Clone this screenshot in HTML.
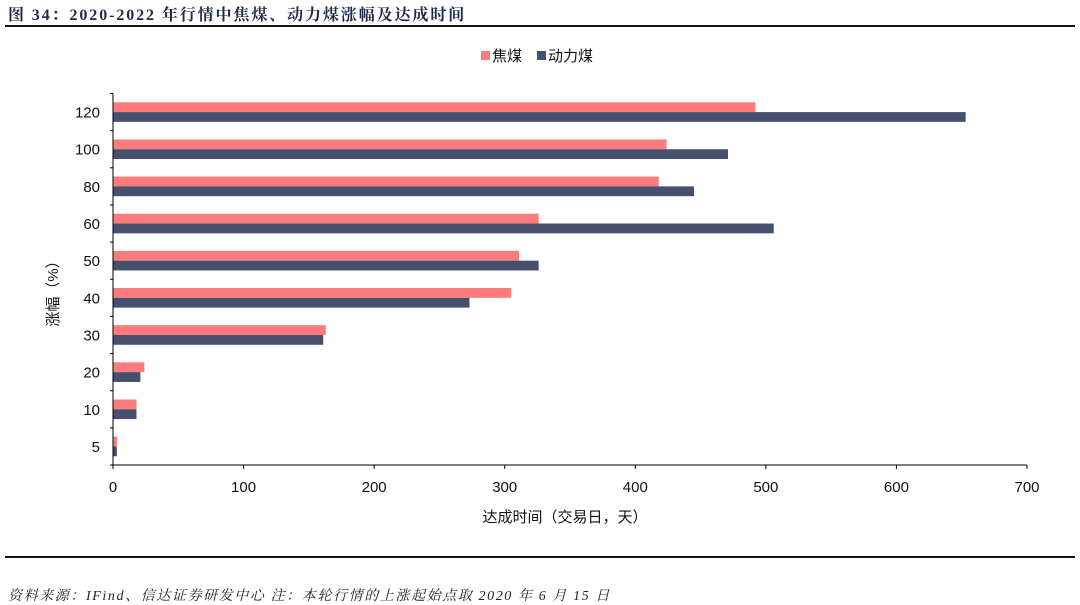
<!DOCTYPE html>
<html><head><meta charset="utf-8">
<style>
html,body{margin:0;padding:0;background:#fff;}
body{width:1080px;height:605px;position:relative;overflow:hidden;font-family:"Liberation Sans","Noto Sans CJK SC",sans-serif;}
.title{position:absolute;left:8px;top:2px;font-family:"Liberation Serif","Noto Serif CJK SC",serif;font-weight:bold;font-size:16px;color:#1f2a4a;letter-spacing:1.9px;}
.rule{position:absolute;left:5px;width:1070px;height:2px;background:#111;}
.foot{position:absolute;left:8px;top:585px;font-family:"Liberation Serif","Noto Serif CJK SC",serif;font-style:italic;font-size:14px;color:#222;letter-spacing:1.6px;}
</style></head><body>
<div class="title">图 34：2020-2022 年行情中焦煤、动力煤涨幅及达成时间</div>
<div class="rule" style="top:25px"></div>
<div class="rule" style="top:556px"></div>
<div class="foot">资料来源：IFind、信达证券研发中心 注：本轮行情的上涨起始点取 2020 年 6 月 15 日</div>
<svg id="chart" width="1080" height="605" style="position:absolute;left:0;top:0"></svg>
<script>
const categories=["120","100","80","60","50","40","30","20","10","5"];
const cokingCoal=[492,424,418,326,311,305,163,24,18,3];
const thermalCoal=[653,471,445,506,326,273,161,21,18,3];
const xTicks=[0,100,200,300,400,500,600,700];
const NS="http://www.w3.org/2000/svg";
const svg=document.getElementById('chart');
const x0=113,x1=1027,xMax=700,plotTop=93.5,plotBottom=465;
const band=(plotBottom-plotTop)/categories.length;
const xs=v=>x0+(x1-x0)*v/xMax;
function mk(t,a){const e=document.createElementNS(NS,t);for(const k in a)e.setAttribute(k,a[k]);svg.appendChild(e);return e;}
categories.forEach((c,i)=>{
  const yc=plotTop+band*i+band/2;
  let r=mk('rect',{x:x0,y:yc-9.8,width:xs(cokingCoal[i])-x0,height:9.8,fill:'#ff7c7c'});
  
  
  r=mk('rect',{x:x0,y:yc,width:xs(thermalCoal[i])-x0,height:9.8,fill:'#44506e'});
  
  
  const t=mk('text',{x:100,y:yc+5.5,'text-anchor':'end','font-size':15,fill:'#111'});
  t.textContent=c;
  
  
  mk('line',{x1:x0-3,x2:x0,y1:plotTop+band*i,y2:plotTop+band*i,stroke:'#000'});
});
mk('line',{x1:x0-3,x2:x0,y1:plotBottom,y2:plotBottom,stroke:'#000'});
mk('line',{x1:x0,x2:x0,y1:plotTop,y2:plotBottom,stroke:'#000'});
mk('line',{x1:x0,x2:x1,y1:plotBottom,y2:plotBottom,stroke:'#000'});
xTicks.forEach(v=>{
  mk('line',{x1:xs(v),x2:xs(v),y1:plotBottom,y2:plotBottom+4,stroke:'#000'});
  const t=mk('text',{x:xs(v),y:plotBottom+27,'text-anchor':'middle','font-size':15,fill:'#111'});
  t.textContent=v;
  
  
});
let t=mk('text',{x:565,y:522,'text-anchor':'middle','font-size':15,fill:'#111'});
t.textContent='达成时间（交易日，天）';


t=mk('text',{x:0,y:0,'text-anchor':'middle','font-size':15,fill:'#111',transform:'translate(58,290) rotate(-90)'});
t.textContent='涨幅（%）';


mk('rect',{x:481,y:51,width:9,height:9,fill:'#ff7c7c'});
t=mk('text',{x:492,y:61,'font-size':15,fill:'#111'});t.textContent='焦煤';


mk('rect',{x:537,y:51,width:9,height:9,fill:'#44506e'});
t=mk('text',{x:548,y:61,'font-size':15,fill:'#111'});t.textContent='动力煤';


</script>
</body></html>
